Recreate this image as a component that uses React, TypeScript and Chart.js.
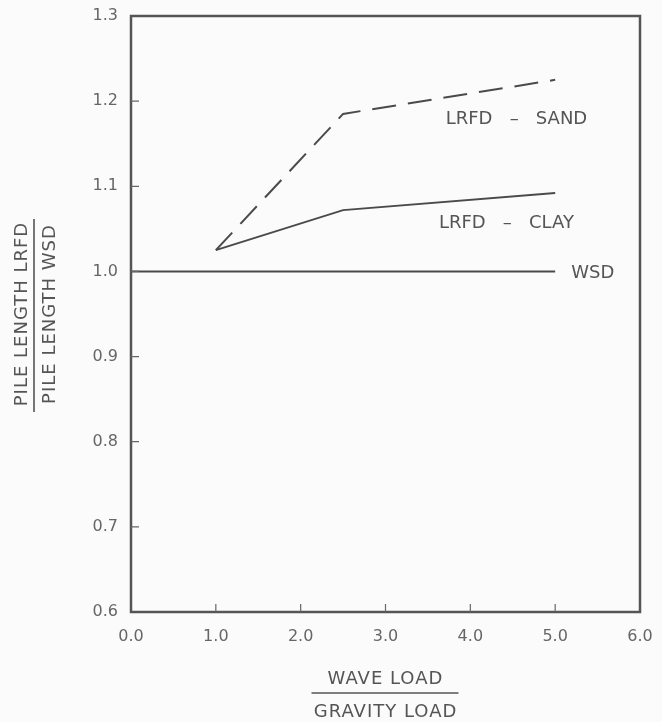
import React, { useEffect, useRef } from "react";
import { Chart, registerables } from "chart.js";

Chart.register(...registerables);

// ---- data ----
const sandX = [1.0, 2.5, 5.0];
const sandY = [1.025, 1.185, 1.225];
const clayX = [1.0, 2.5, 5.0];
const clayY = [1.025, 1.072, 1.092];
const wsdX = [0.0, 5.0];
const wsdY = [1.0, 1.0];

const xTickValues = [0, 1, 2, 3, 4, 5, 6];
const yTickValues = [0.6, 0.7, 0.8, 0.9, 1.0, 1.1, 1.2, 1.3];

// curve labels (text + anchor in data units)
const curveLabels = ["LRFD   –   SAND", "LRFD   –   CLAY", "WSD"];
const curveLabelX = [3.71, 3.63, 5.19];
const curveLabelY = [1.179, 1.056, 0.998];

const yTitleTop = "PILE LENGTH LRFD";
const yTitleBottom = "PILE LENGTH WSD";
const xTitleTop = "WAVE LOAD";
const xTitleBottom = "GRAVITY LOAD";

const INK = "#4a4a4a";
const TEXT = "#555555";
const FONT = "'DejaVu Sans', sans-serif";

const pts = (xs: number[], ys: number[]) => xs.map((x, i) => ({ x, y: ys[i] }));

const decorPlugin = {
  id: "decor",
  beforeDraw(chart: any) {
    const ctx = chart.ctx;
    ctx.save();
    ctx.fillStyle = "#fbfbfb";
    ctx.fillRect(0, 0, chart.width, chart.height);
    ctx.restore();
  },
  afterDraw(chart: any) {
    const ctx = chart.ctx;
    const a = chart.chartArea;
    const xs = chart.scales.x;
    const ys = chart.scales.y;
    ctx.save();
    // frame
    ctx.strokeStyle = "#555";
    ctx.lineWidth = 2.5;
    ctx.strokeRect(a.left, a.top, a.right - a.left, a.bottom - a.top);
    // inward ticks
    ctx.lineWidth = 1.2;
    ctx.strokeStyle = "#666";
    ctx.beginPath();
    xTickValues.slice(1, -1).forEach((v) => {
      const px = xs.getPixelForValue(v);
      ctx.moveTo(px, a.bottom);
      ctx.lineTo(px, a.bottom - 8);
    });
    yTickValues.slice(1, -1).forEach((v) => {
      const py = ys.getPixelForValue(v);
      ctx.moveTo(a.left, py);
      ctx.lineTo(a.left + 8, py);
    });
    ctx.stroke();

    // curve labels
    ctx.fillStyle = TEXT;
    ctx.font = `18px ${FONT}`;
    ctx.textBaseline = "middle";
    ctx.textAlign = "left";
    curveLabels.forEach((t, i) => {
      ctx.fillText(t, xs.getPixelForValue(curveLabelX[i]), ys.getPixelForValue(curveLabelY[i]));
    });

    // x title (fraction)
    (ctx as any).letterSpacing = "1px";
    ctx.textAlign = "center";
    const cx = (a.left + a.right) / 2;
    ctx.fillText(xTitleTop, cx, a.bottom + 67);
    ctx.fillText(xTitleBottom, cx, a.bottom + 100);
    ctx.strokeStyle = "#555";
    ctx.lineWidth = 1.6;
    ctx.beginPath();
    ctx.moveTo(cx - 74, a.bottom + 81);
    ctx.lineTo(cx + 73, a.bottom + 81);
    ctx.stroke();

    // y title (fraction, rotated)
    const cy = (a.top + a.bottom) / 2;
    ctx.save();
    ctx.translate(22, cy);
    ctx.rotate(-Math.PI / 2);
    ctx.fillText(yTitleTop, 0, 0);
    ctx.restore();
    ctx.save();
    ctx.translate(50, cy);
    ctx.rotate(-Math.PI / 2);
    ctx.fillText(yTitleBottom, 0, 0);
    ctx.restore();
    ctx.beginPath();
    ctx.moveTo(34, cy - 95);
    ctx.lineTo(34, cy + 98);
    ctx.stroke();
    (ctx as any).letterSpacing = "0px";
    ctx.restore();
  },
};

export default function App() {
  const ref = useRef<HTMLCanvasElement | null>(null);
  useEffect(() => {
    if (!ref.current) return;
    const chart = new Chart(ref.current, {
      type: "line",
      data: {
        datasets: [
          {
            label: "LRFD - SAND",
            data: pts(sandX, sandY),
            borderColor: INK,
            borderWidth: 2,
            borderDash: [24, 12],
            pointRadius: 0,
            tension: 0,
          },
          {
            label: "LRFD - CLAY",
            data: pts(clayX, clayY),
            borderColor: INK,
            borderWidth: 2,
            pointRadius: 0,
            tension: 0,
          },
          {
            label: "WSD",
            data: pts(wsdX, wsdY),
            borderColor: INK,
            borderWidth: 2,
            pointRadius: 0,
            tension: 0,
          },
        ],
      },
      options: {
        responsive: false,
        animation: false,
        layout: { padding: { left: 0, right: 22, top: 16, bottom: 0 } },
        plugins: { legend: { display: false }, tooltip: { enabled: false } },
        scales: {
          x: {
            type: "linear",
            min: 0,
            max: 6,
            afterFit: (s: any) => {
              s.height = 110;
              s.paddingLeft = 0;
              s.paddingRight = 0;
            },
            afterBuildTicks: (s: any) => {
              s.ticks = xTickValues.map((v) => ({ value: v }));
            },
            grid: { display: false, drawTicks: false },
            border: { display: false },
            ticks: {
              padding: 15,
              color: "#666",
              font: { family: FONT, size: 16 },
              maxRotation: 0,
              callback: (v: any) => Number(v).toFixed(1),
            },
          },
          y: {
            type: "linear",
            min: 0.6,
            max: 1.3,
            afterFit: (s: any) => {
              s.width = 131;
              s.paddingTop = 0;
              s.paddingBottom = 0;
            },
            afterBuildTicks: (s: any) => {
              s.ticks = yTickValues.map((v) => ({ value: v }));
            },
            grid: { display: false, drawTicks: false },
            border: { display: false },
            ticks: {
              padding: 13,
              color: "#666",
              font: { family: FONT, size: 16 },
              callback: (v: any) => Number(v).toFixed(1),
            },
          },
        },
      },
      plugins: [decorPlugin],
    });
    return () => chart.destroy();
  }, []);
  return (
    <canvas
      ref={ref}
      width={662}
      height={722}
      style={{ position: "absolute", left: 0, top: 0, display: "block" }}
    />
  );
}
